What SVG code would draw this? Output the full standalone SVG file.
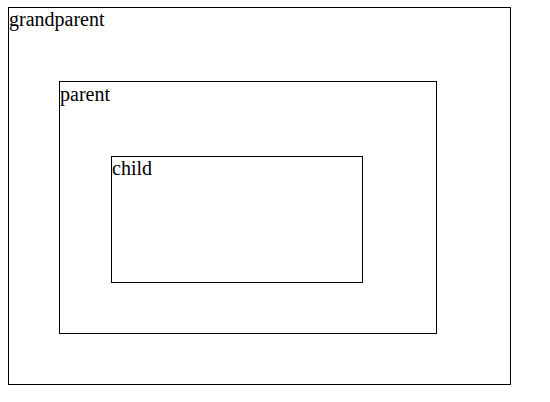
<svg xmlns="http://www.w3.org/2000/svg" width="550" height="402" viewBox="0 0 550 402">
<style>
rect{fill:none;stroke:#000;stroke-width:1}
text{font-family:"Liberation Serif","Times New Roman",serif;font-size:20px;fill:#000}
</style>
<rect x="0" y="0" width="550" height="402" style="fill:#fff;stroke:none"/>
<g id="grandparent">
<rect x="8.5" y="7.5" width="502" height="377"/>
<text x="9" y="26">grandparent</text>
</g>
<g id="parent">
<rect x="59.5" y="81.5" width="377" height="252"/>
<text x="60" y="101">parent</text>
</g>
<g id="child">
<rect x="111.5" y="156.5" width="251" height="126"/>
<text x="112" y="175">child</text>
</g>
<g id="connectors"></g>
</svg>
